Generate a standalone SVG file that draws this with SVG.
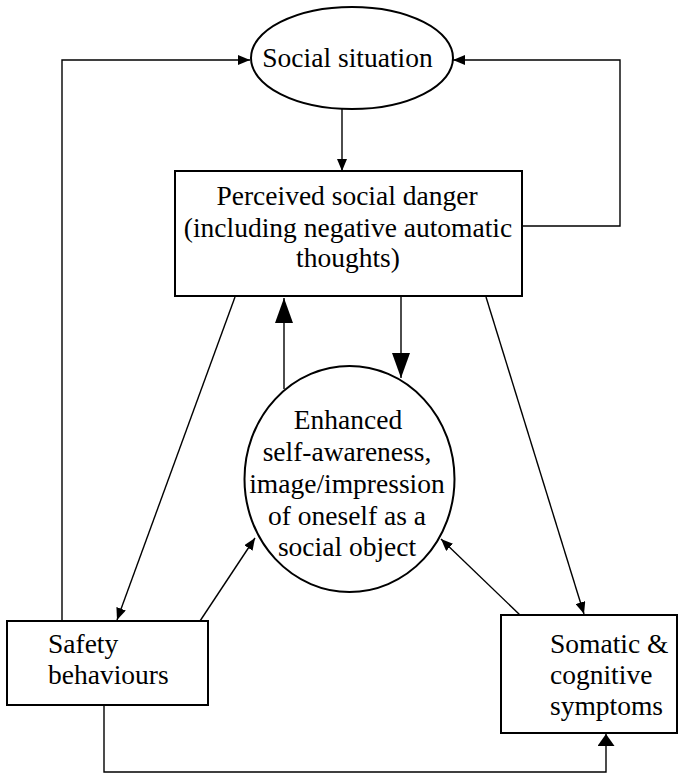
<svg xmlns="http://www.w3.org/2000/svg" width="679" height="775" viewBox="0 0 679 775">
  <style>
    .node { fill: #ffffff; stroke: #000000; stroke-width: 2; }
    .label { font-family: "Liberation Serif", "Times New Roman", serif; font-size: 27.5px; fill: #000000; }
    .mid { text-anchor: middle; }
    .edge { fill: none; stroke: #000000; stroke-width: 1.4; }
  </style>
  <defs>
    <marker id="arrow-sm" markerUnits="userSpaceOnUse" viewBox="0 0 12 10" refX="12" refY="5" markerWidth="12" markerHeight="10" orient="auto">
      <path d="M0,0 L12,5 L0,10 z" fill="#000000"/>
    </marker>
    <marker id="arrow-md" markerUnits="userSpaceOnUse" viewBox="0 0 12 17" refX="12" refY="8.5" markerWidth="12" markerHeight="17" orient="auto">
      <path d="M0,0 L12,8.5 L0,17 z" fill="#000000"/>
    </marker>
    <marker id="arrow-lg" markerUnits="userSpaceOnUse" viewBox="0 0 25 18" refX="25" refY="9" markerWidth="25" markerHeight="18" orient="auto">
      <path d="M0,0 L25,9 L0,18 z" fill="#000000"/>
    </marker>
  </defs>

  <!-- connectors -->
  <g id="connectors">
    <!-- safety behaviours back to the social situation -->
    <polyline class="edge" points="62,621 62,60 250,60" marker-end="url(#arrow-sm)"/>
    <!-- perceived danger back to the social situation -->
    <polyline class="edge" points="522,226 620,226 620,60 453,60" marker-end="url(#arrow-sm)"/>
    <!-- situation to perceived danger -->
    <line class="edge" x1="342" y1="108" x2="342" y2="171" marker-end="url(#arrow-sm)"/>
    <!-- self-image up to perceived danger -->
    <line class="edge" x1="284" y1="389" x2="284" y2="298" marker-end="url(#arrow-lg)"/>
    <!-- perceived danger down to self-image -->
    <line class="edge" x1="401" y1="297" x2="401" y2="378" marker-end="url(#arrow-lg)"/>
    <!-- perceived danger to safety behaviours -->
    <line class="edge" x1="235" y1="297" x2="117" y2="620" marker-end="url(#arrow-sm)"/>
    <!-- safety behaviours to self-image -->
    <line class="edge" x1="200" y1="621" x2="255" y2="538" marker-end="url(#arrow-sm)"/>
    <!-- perceived danger to symptoms -->
    <line class="edge" x1="486" y1="297" x2="584" y2="614" marker-end="url(#arrow-sm)"/>
    <!-- symptoms to self-image -->
    <line class="edge" x1="520" y1="615" x2="441" y2="539" marker-end="url(#arrow-sm)"/>
    <!-- safety behaviours to symptoms -->
    <polyline class="edge" points="104,705 104,772 606,772 606,734" marker-end="url(#arrow-md)"/>
  </g>

  <g id="social-situation">
    <ellipse class="node" cx="352" cy="58" rx="101" ry="51"/>
    <text class="label mid" x="347.5" y="67">Social situation</text>
  </g>

  <g id="perceived-danger">
    <rect class="node" x="175" y="171" width="347" height="125"/>
    <text class="label mid" x="347" y="205">Perceived social danger</text>
    <text class="label mid" x="348" y="237">(including negative automatic</text>
    <text class="label mid" x="348" y="267">thoughts)</text>
  </g>

  <g id="self-image">
    <ellipse class="node" cx="349.5" cy="479" rx="105" ry="113"/>
    <text class="label mid" x="348" y="429">Enhanced</text>
    <text class="label mid" x="347" y="461">self-awareness,</text>
    <text class="label mid" x="347" y="493">image/impression</text>
    <text class="label mid" x="347" y="525">of oneself as a</text>
    <text class="label mid" x="347" y="556">social object</text>
  </g>

  <g id="safety-behaviours">
    <rect class="node" x="7" y="621" width="201" height="84"/>
    <text class="label" x="48" y="653">Safety</text>
    <text class="label" x="48" y="684">behaviours</text>
  </g>

  <g id="symptoms">
    <rect class="node" x="501" y="615" width="176" height="118"/>
    <text class="label" x="550" y="653">Somatic &amp;</text>
    <text class="label" x="550" y="684">cognitive</text>
    <text class="label" x="550" y="715">symptoms</text>
  </g>
</svg>
